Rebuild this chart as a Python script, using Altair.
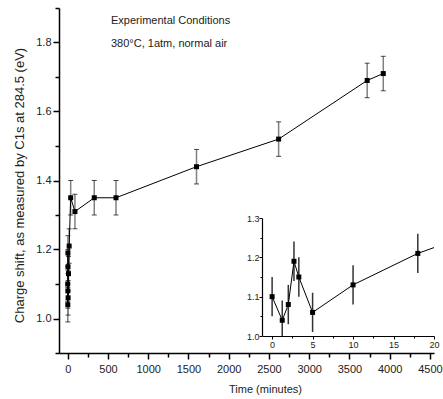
import altair as alt
import pandas as pd

# ---- data ----
time_min = [0, 1.25, 2, 2.7, 3.3, 5, 10, 18, 37, 90, 330, 600, 1600, 2620, 3720, 3920]
shift_ev = [1.10, 1.04, 1.08, 1.19, 1.15, 1.06, 1.13, 1.21, 1.35, 1.31, 1.35, 1.35, 1.44, 1.52, 1.69, 1.71]
err_ev = [0.05, 0.05, 0.05, 0.05, 0.05, 0.05, 0.05, 0.05, 0.05, 0.05, 0.05, 0.05, 0.05, 0.05, 0.05, 0.05]

main_x_major = [0, 500, 1000, 1500, 2000, 2500, 3000, 3500, 4000, 4500]
main_x_minor = [250, 750, 1250, 1750, 2250, 2750, 3250, 3750, 4250]
main_y_major = [1.0, 1.2, 1.4, 1.6, 1.8]
main_y_minor = [0.9, 1.1, 1.3, 1.5, 1.7, 1.9]
inset_x_major = [0, 5, 10, 15, 20]
inset_x_minor = [2.5, 7.5, 12.5, 17.5]
inset_y_major = [1.0, 1.1, 1.2, 1.3]
inset_y_minor = [1.05, 1.15, 1.25]

notes = ["Experimental Conditions", "380\u00b0C, 1atm, normal air"]
x_title = "Time (minutes)"
y_title = "Charge shift, as measured by C1s at 284.5  (eV)"

df = pd.DataFrame({"t": time_min, "v": shift_ev, "e": err_ev})
df["lo"] = df["v"] - df["e"]
df["hi"] = df["v"] + df["e"]
caps = pd.concat([df[["t", "lo"]].rename(columns={"lo": "c"}),
                  df[["t", "hi"]].rename(columns={"hi": "c"})])
inset_pts = df[df["t"] <= 20]
inset_line = df[df["t"] <= 40]

FONT = "Liberation Sans, Arial, sans-serif"
TXT = "#222222"

W, H = 375, 345
XM = alt.Scale(domain=[-108, 4550], nice=False, zero=False)
YM = alt.Scale(domain=[0.9, 1.9], nice=False, zero=False)
XI = alt.Scale(domain=[-1.25, 20], range=[203, 375], nice=False, zero=False)
YI = alt.Scale(domain=[1.0, 1.3], range=[328, 210], nice=False, zero=False)
YIc = alt.Scale(domain=[1.0, 1.3], range=[328, 210], nice=False, zero=False, clamp=True)

ax_common = dict(grid=False, domainColor="black", tickColor="black",
                 labelColor=TXT, labelFont=FONT)

x_main_axis = alt.Axis(orient="bottom", values=main_x_major, format="d", tickSize=6,
                       tickWidth=1.5, domainWidth=1.5, labelFontSize=11, labelPadding=4,
                       labelFlush=False, labelOverlap=False,
                       title=x_title, titleFont=FONT, titleFontSize=11,
                       titleFontWeight="normal", titleColor=TXT, titleX=206, titleY=39,
                       titleBaseline="alphabetic", titleAlign="center", **ax_common)
y_main_axis = alt.Axis(orient="left", values=main_y_major, format=".1f", tickSize=6,
                       tickWidth=1.5, domainWidth=1.5, labelFontSize=11, labelPadding=2,
                       labelFlush=False, labelOverlap=False,
                       title=y_title, titleFont=FONT, titleFontSize=13,
                       titleFontWeight="normal", titleColor=TXT, titleAngle=270,
                       titleX=-36, titleY=177, titleBaseline="alphabetic",
                       titleAlign="center", **ax_common)
x_main_minor = alt.Axis(orient="bottom", values=main_x_minor, tickSize=4, tickWidth=1.5,
                        labels=False, domain=False, title=None, grid=False, tickColor="black")
y_main_minor = alt.Axis(orient="left", values=main_y_minor, tickSize=4, tickWidth=1.5,
                        labels=False, domain=False, title=None, grid=False, tickColor="black")

x_in_axis = alt.Axis(orient="bottom", offset=-17, values=inset_x_major, format="d",
                     tickSize=3, tickWidth=1, domainWidth=1.2, labelFontSize=9,
                     labelPadding=1, labelFlush=False, labelOverlap=False, title=None,
                     **ax_common)
y_in_axis = alt.Axis(orient="left", offset=-203, values=inset_y_major, format=".1f",
                     tickSize=3, tickWidth=1, domainWidth=1.2, labelFontSize=9,
                     labelPadding=0, labelFlush=False, labelOverlap=False, title=None,
                     **ax_common)
x_in_minor = alt.Axis(orient="bottom", offset=-17, values=inset_x_minor, tickSize=2,
                      labels=False, domain=False, title=None, grid=False, tickColor="black")
y_in_minor = alt.Axis(orient="left", offset=-203, values=inset_y_minor, tickSize=2,
                      labels=False, domain=False, title=None, grid=False, tickColor="black")

base = alt.Chart(df)

main_line = base.mark_line(color="black", strokeWidth=1).encode(
    x=alt.X("t:Q", scale=XM, axis=x_main_axis),
    y=alt.Y("v:Q", scale=YM, axis=y_main_axis),
    order="t:Q",
)
main_err = base.mark_rule(color="#808080", strokeWidth=1.5).encode(
    x=alt.X("t:Q", scale=XM, axis=x_main_minor),
    y=alt.Y("lo:Q", scale=YM, axis=y_main_minor),
    y2="hi:Q",
)
main_caps = alt.Chart(caps).mark_tick(orient="horizontal", size=5, thickness=1,
                                      color="black").encode(
    x=alt.X("t:Q", scale=XM, axis=None),
    y=alt.Y("c:Q", scale=YM, axis=None),
)
main_pts = base.mark_square(size=25, color="black", opacity=1).encode(
    x=alt.X("t:Q", scale=XM, axis=None),
    y=alt.Y("v:Q", scale=YM, axis=None),
)

in_line = alt.Chart(inset_line).mark_line(color="black", strokeWidth=1, clip=True).encode(
    x=alt.X("t:Q", scale=XI, axis=x_in_axis),
    y=alt.Y("v:Q", scale=YI, axis=y_in_axis),
    order="t:Q",
)
in_err = alt.Chart(inset_pts).mark_rule(color="#333333", strokeWidth=1.5).encode(
    x=alt.X("t:Q", scale=XI, axis=x_in_minor),
    y=alt.Y("lo:Q", scale=YIc, axis=y_in_minor),
    y2="hi:Q",
)
in_pts = alt.Chart(inset_pts).mark_square(size=25, color="black", opacity=1).encode(
    x=alt.X("t:Q", scale=XI, axis=None),
    y=alt.Y("v:Q", scale=YI, axis=None),
)

note = alt.Chart(pd.DataFrame({"k": [0]})).mark_text(
    align="left", baseline="alphabetic", font=FONT, fontSize=11, color=TXT,
    lineHeight=23,
).encode(x=alt.value(52), y=alt.value(16), text=alt.value(notes))

chart = alt.layer(
    main_err, main_caps, main_line, main_pts, in_err, in_line, in_pts, note
).resolve_scale(x="independent", y="independent").properties(
    width=W, height=H,
    autosize=alt.AutoSizeParams(type="none"),
    padding={"left": 59, "top": 8, "right": 9, "bottom": 46},
    background="white",
).configure_view(stroke=None)

chart.save("out.html", embed_options={"renderer": "svg", "actions": False})
